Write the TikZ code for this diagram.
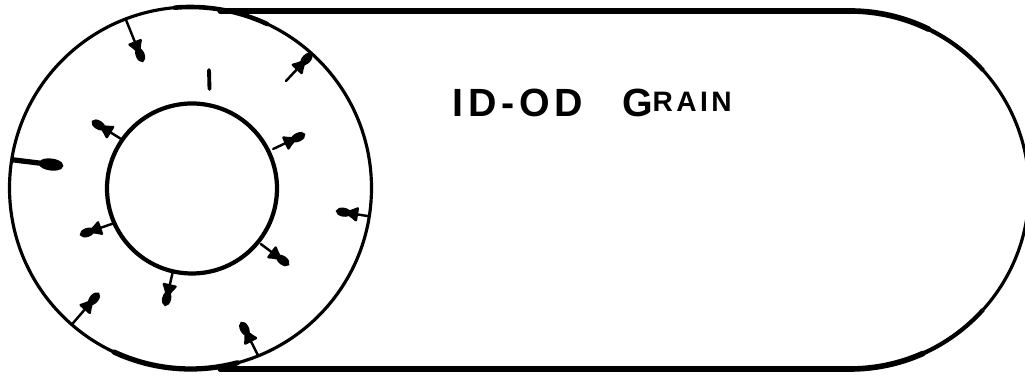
\documentclass[tikz,border=0pt]{standalone}
\usepackage{fontspec}
\usetikzlibrary{arrows.meta}
\newfontfamily\handfont[LetterSpace=12]{Liberation Sans}
\tikzset{
    ring/.style={circle,draw,inner sep=0pt,outer sep=0pt},
    burn/.style={-{Latex[length=1.7mm,width=1.7mm,round,sep=-0.7mm] Ellipse[length=1.5mm,width=0.9mm]},line width=0.7pt,line cap=round},
    burnthick/.style={-{Ellipse[length=2.4mm,width=1.2mm]},line width=1.5pt},
}

\begin{document}
\begin{tikzpicture}[>=Stealth]
    \useasboundingbox (0,0) rectangle (10.25,3.76);

    % Case
    \draw[line width=1.5pt,line cap=round] (2.20,3.65) -- (8.50,3.65);
    \draw[line width=1.5pt,line cap=round] (2.20,0.07) -- (8.50,0.07);
    \draw[line width=0.9pt] (8.50,3.65) arc (90:-90:1.79);
    \draw[line width=1.2pt] (8.50,3.65) arc (90:42:1.79);
    \draw[line width=1.2pt] (8.50,0.07) arc (-90:-42:1.79);
    \draw[line width=1.6pt,line cap=round] (8.50,3.65) arc (90:64:1.79);
    \draw[line width=1.6pt,line cap=round] (8.50,0.07) arc (-90:-66:1.79);

    % Grain surfaces
    \node[ring,line width=0.9pt,minimum size=3.62cm] (outer) at (1.905,1.88) {};
    \node[ring,line width=1.2pt,minimum size=1.70cm] (inner) at (1.92,1.875) {};

    % Heavier parts of the outer surface
    \draw[line width=1.3pt,line cap=round] (outer.65) arc (65:95:1.81);
    \draw[line width=1.5pt,line cap=round] (outer.245) arc (245:285:1.81);

    % Free ends, outer surface
    \coordinate (o1) at (1.43,3.14);
    \coordinate (o2) at (2.86,2.95);
    \coordinate (o3) at (0.63,2.10);
    \coordinate (o4) at (3.36,1.65);
    \coordinate (o5) at (0.99,0.83);
    \coordinate (o6) at (2.41,0.54);

    % Free ends, inner surface
    \coordinate (i1) at (0.92,2.55);
    \coordinate (i2) at (3.05,2.42);
    \coordinate (i3) at (0.80,1.41);
    \coordinate (i4) at (2.89,1.11);
    \coordinate (i5) at (1.65,0.70);

    % Short mark above the bore
    \coordinate (m1) at (2.09,3.06);
    \coordinate (m2) at (2.095,2.87);
    \draw[line width=1.1pt,line cap=round] (m1) -- (m2);

    % Burning in from the outer surface
    \draw[burn] (outer.111) -- (o1);
    \draw[burn] (o2) -- (outer.48);
    \draw[burnthick] (outer.171) -- (o3);
    \draw[burn] (outer.-9) -- (o4);
    \draw[burn] (outer.229) -- (o5);
    \draw[burn] (outer.-68) -- (o6);

    % Burning out from the bore
    \draw[burn] (inner.145) -- (i1);
    \draw[burn,shorten <=1.5pt] (inner.26) -- (i2);
    \draw[burn] (inner.204) -- (i3);
    \draw[burn,shorten <=1pt] (inner.-39) -- (i4);
    \draw[burn] (inner.257) -- (i5);

    % Label
    \node[anchor=base west,inner sep=0pt,font=\handfont\bfseries] (title) at (4.52,2.59)
        {\fontsize{11.2}{13}\selectfont ID-OD\hspace{3.9mm}G\raisebox{0.5mm}{\fontsize{8}{13}\selectfont RAIN}};
\end{tikzpicture}
\end{document}
